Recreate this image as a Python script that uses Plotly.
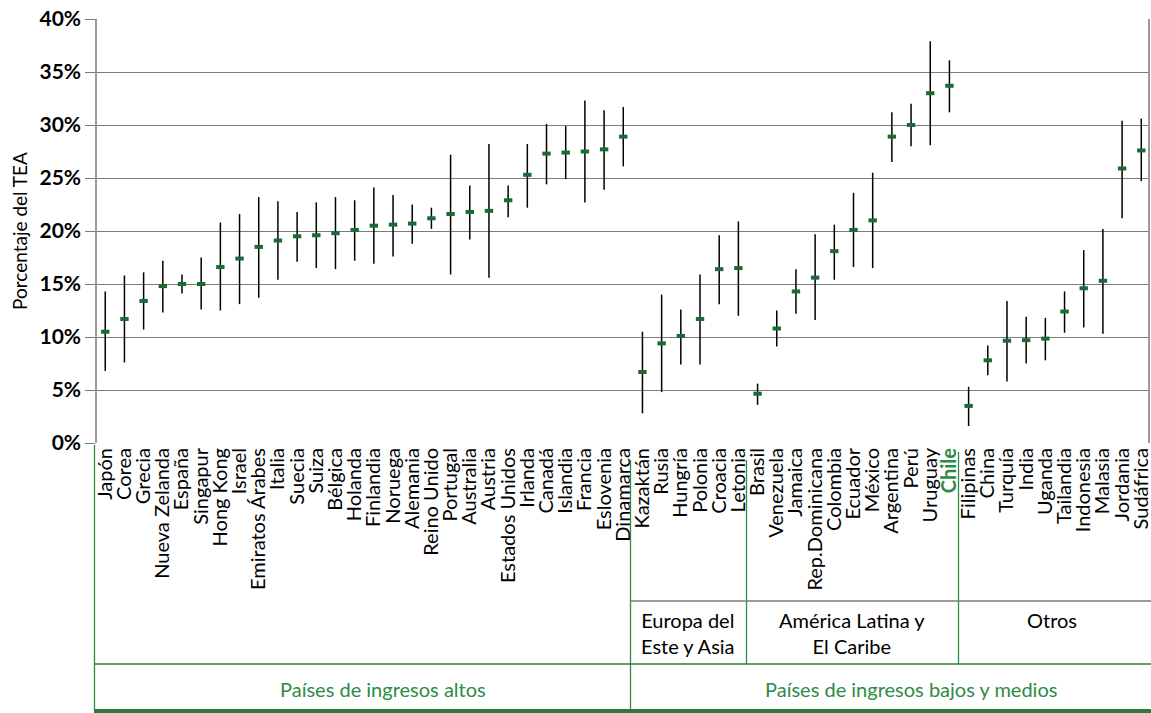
import plotly.graph_objects as go

countries = ["Japón", "Corea", "Grecia", "Nueva Zelanda", "España", "Singapur", "Hong Kong", "Israel",
             "Emiratos Árabes", "Italia", "Suecia", "Suiza", "Bélgica", "Holanda", "Finlandia", "Noruega",
             "Alemania", "Reino Unido", "Portugal", "Australia", "Austria", "Estados Unidos", "Irlanda",
             "Canadá", "Islandia", "Francia", "Eslovenia", "Dinamarca",
             "Kazaktán", "Rusia", "Hungría", "Polonia", "Croacia", "Letonia",
             "Brasil", "Venezuela", "Jamaica", "Rep.Dominicana", "Colombia", "Ecuador", "México",
             "Argentina", "Perú", "Uruguay", "Chile",
             "Filipinas", "China", "Turquía", "India", "Uganda", "Tailandia", "Indonesia", "Malasia",
             "Jordania", "Sudáfrica"]

tea = [10.5, 11.7, 13.4, 14.8, 15.0, 15.0, 16.6, 17.4, 18.5, 19.1, 19.5, 19.6, 19.8, 20.1, 20.5, 20.6,
       20.7, 21.2, 21.6, 21.8, 21.9, 22.9, 25.3, 27.3, 27.4, 27.5, 27.7, 28.9,
       6.7, 9.4, 10.1, 11.7, 16.4, 16.5,
       4.65, 10.8, 14.3, 15.6, 18.1, 20.1, 21.0, 28.9, 30.0, 33.0, 33.7,
       3.5, 7.8, 9.65, 9.7, 9.85, 12.4, 14.6, 15.3, 25.9, 27.6]

lo = [6.8, 7.6, 10.7, 12.3, 14.1, 12.6, 12.5, 13.1, 13.7, 15.4, 17.1, 16.5, 16.4, 17.2, 16.9, 17.6,
      18.8, 20.2, 15.9, 19.2, 15.6, 21.3, 22.2, 24.4, 24.9, 22.7, 23.9, 26.1,
      2.8, 4.8, 7.4, 7.4, 13.1, 12.0,
      3.6, 9.1, 12.2, 11.6, 15.4, 16.6, 16.5, 26.5, 28.0, 28.1, 31.2,
      1.6, 6.4, 5.8, 7.5, 7.8, 10.4, 10.9, 10.3, 21.2, 24.7]

hi = [14.3, 15.8, 16.1, 17.2, 15.9, 17.5, 20.8, 21.6, 23.2, 22.8, 21.8, 22.7, 23.2, 22.9, 24.1, 23.4,
      22.5, 22.2, 27.2, 24.3, 28.2, 24.3, 28.2, 30.1, 29.9, 32.3, 31.4, 31.7,
      10.5, 14.0, 12.6, 15.9, 19.6, 20.9,
      5.6, 12.5, 16.4, 19.7, 20.6, 23.6, 25.5, 31.2, 32.0, 37.9, 36.1,
      5.3, 9.2, 13.4, 11.9, 11.8, 14.3, 18.2, 20.2, 30.4, 30.6]

y_ticks = [0, 5, 10, 15, 20, 25, 30, 35, 40]
y_tick_labels = ["0%", "5%", "10%", "15%", "20%", "25%", "30%", "35%", "40%"]

GREEN = "#2e8b45"
GREEN_DARK = "#2a7a3c"
MARK = "#1b6a36"
GRID = "#7a7a7a"
FONT = "Lato"

tick_text = [f"<b><span style='color:{GREEN}'>{c}</span></b>" if c == "Chile" else c for c in countries]

fig = go.Figure()
fig.add_trace(go.Scatter(
    x=countries, y=tea, mode="markers",
    marker=dict(symbol="line-ew", size=6, line=dict(width=4, color=MARK)),
    error_y=dict(type="data", symmetric=False,
                 array=[h - m for h, m in zip(hi, tea)],
                 arrayminus=[m - l for m, l in zip(tea, lo)],
                 color="black", thickness=1.5, width=0),
    showlegend=False, hoverinfo="x+y",
))

W, H = 1151, 713
L, R, T, B = 97, 1148, 19, 443


def px(x):
    return (x - L) / (R - L)


def py(y):
    return (B - y) / (B - T)


shapes = []


def vline(x, y0, y1, color, width=1.3):
    shapes.append(dict(type="line", xref="paper", yref="paper", x0=px(x), x1=px(x), y0=py(y0), y1=py(y1),
                       line=dict(color=color, width=width)))


def hline(y, x0, x1, color, width=1.3):
    shapes.append(dict(type="line", xref="paper", yref="paper", x0=px(x0), x1=px(x1), y0=py(y), y1=py(y),
                       line=dict(color=color, width=width)))


vline(94.5, 445, 711, GREEN)
vline(630.5, 460, 711, GREEN)
vline(746.5, 460, 664, GREEN)
vline(958.5, 452, 664, GREEN)
hline(601, 630.5, 1151, GRID)
hline(664, 94.5, 1151, GREEN_DARK, 1.6)
shapes.append(dict(type="rect", xref="paper", yref="paper", x0=px(94), x1=px(1151), y0=py(713), y1=py(709),
                   line=dict(width=0), fillcolor=GREEN_DARK))

annotations = []


def label(x, y, text, color="black", size=20):
    annotations.append(dict(xref="paper", yref="paper", x=px(x), y=py(y), text=text, showarrow=False,
                            xanchor="center", yanchor="middle",
                            font=dict(family=FONT, size=size, color=color)))


label(688, 633, "Europa del<br>Este y Asia")
label(852, 633, "América Latina y<br>El Caribe")
label(1052, 620, "Otros")
label(383, 689, "Países de ingresos altos", GREEN)
label(911, 689, "Países de ingresos bajos y medios", GREEN)

fig.update_layout(
    width=W, height=H, autosize=False,
    margin=dict(l=L, r=W - R, t=T, b=H - B, autoexpand=False),
    paper_bgcolor="white", plot_bgcolor="white",
    font=dict(family=FONT, size=20, color="black"),
    shapes=shapes, annotations=annotations,
    xaxis=dict(type="category", range=[-0.43, 54.35], tickmode="array", tickvals=countries,
               ticktext=tick_text, tickangle=-90, showgrid=False, zeroline=False, showline=False,
               ticks="", automargin=False, tickfont=dict(family=FONT, size=20, color="black")),
    yaxis=dict(range=[0, 40], tickvals=y_ticks, ticktext=y_tick_labels, showgrid=True,
               gridcolor=GRID, gridwidth=1.3, zeroline=False, showline=True, linecolor="#9a9a9a",
               linewidth=1.5, mirror=True, ticks="outside", ticklen=10, tickcolor=GRID, tickwidth=1.3,
               automargin=False,
               tickfont=dict(family=FONT, size=21, color="black", weight="bold"),
               title=dict(text="Porcentaje del TEA", font=dict(family=FONT, size=19, color="black"),
                          standoff=7)),
)

fig.write_html("out.html", config={"displayModeBar": False},
               post_script="document.body.style.margin='0';document.body.style.overflow='hidden';")
